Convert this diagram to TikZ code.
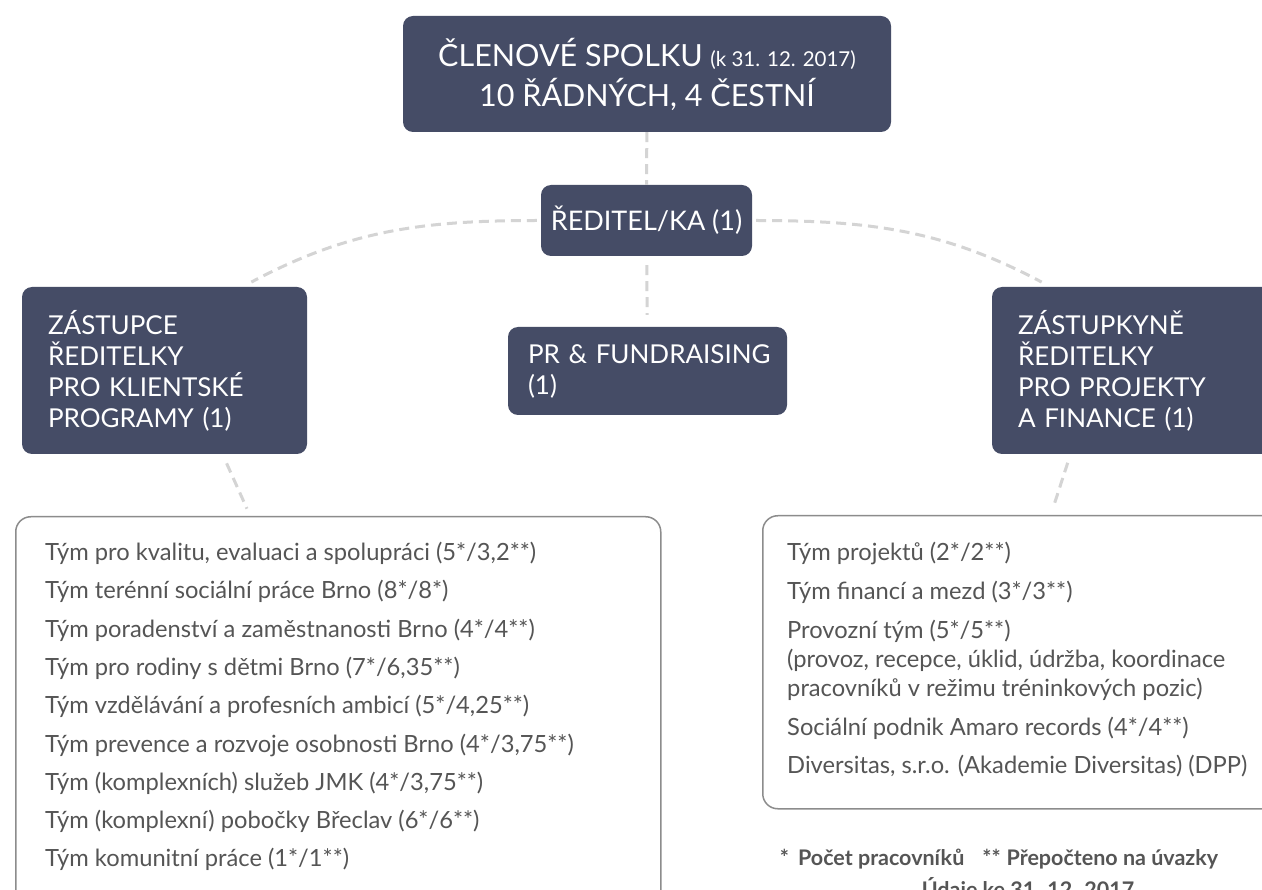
\documentclass[tikz,border=0pt]{standalone}
\usepackage{fontspec}
\setmainfont{Lato}
\definecolor{boxblue}{HTML}{454C66}
\definecolor{dashgrey}{HTML}{D4D4D4}
\definecolor{framegrey}{HTML}{8C8C8C}
\definecolor{textgrey}{HTML}{555555}
\begin{document}
\begin{tikzpicture}[x=1pt, y=-1pt,
    darkbox/.style={fill=boxblue, rounded corners=10pt, text=white, inner sep=0pt,
      font=\fontsize{26}{31}\selectfont},
    listbox/.style={draw=framegrey, line width=1.5pt, rounded corners=15pt, inner sep=0pt},
    item/.style={anchor=base west, text=textgrey, inner sep=0pt,
      font=\fontsize{23.7}{29}\selectfont},
    note/.style={anchor=base, text=textgrey, inner sep=0pt,
      font=\fontsize{21.5}{25}\selectfont\bfseries},
    link/.style={draw=dashgrey, line width=3pt, dash pattern=on 10pt off 6pt}]
  \useasboundingbox (0,0) rectangle (1262,890);
  \fill[white] (0,0) rectangle (1262,890);
  \clip (0,0) rectangle (1262,890);
  \node[darkbox, minimum width=488, minimum height=116, align=center,
    font=\fontsize{30.5}{40}\selectfont] (members) at (647,74)
    {ČLENOVÉ SPOLKU {\fontsize{20.5}{40}\selectfont(k 31. 12. 2017)}\\10 ŘÁDNÝCH, 4 ČESTNÍ};
  \node[darkbox, minimum width=211, minimum height=71, font=\fontsize{27}{31}\selectfont]
    (director) at (646.5,220.5) {ŘEDITEL/KA (1)};
  \node[darkbox, minimum width=279, minimum height=88, text width=239, align=left]
    (pr) at (647.5,371) {\mbox{PR \& FUNDRAISING}\\(1)};
  \node[darkbox, minimum width=285, minimum height=167, text width=233, align=left]
    (clientdep) at (164.5,370.5) {ZÁSTUPCE\\ŘEDITELKY\\PRO KLIENTSKÉ\\PROGRAMY (1)};
  \node[darkbox, minimum width=285, minimum height=167, text width=233, align=left]
    (projdep) at (1134.5,370.5) {ZÁSTUPKYNĚ\\ŘEDITELKY\\PRO PROJEKTY\\A FINANCE (1)};
  \node[listbox, minimum width=645, minimum height=400, anchor=north west]
    (clientteams) at (15,516) {};
  \node[listbox, minimum width=530, minimum height=293, anchor=north west]
    (projteams) at (762,515) {};
  \node[item] (ct1) at (45,560.5) {Tým pro kvalitu, evaluaci a spolupráci (5*/3,2**)};
  \node[item] (ct2) at (45,598.8) {Tým terénní sociální práce Brno (8*/8*)};
  \node[item] (ct3) at (45,637.1) {Tým poradenství a zaměstnanosti Brno (4*/4**)};
  \node[item] (ct4) at (45,675.4) {Tým pro rodiny s dětmi Brno (7*/6,35**)};
  \node[item] (ct5) at (45,713.7) {Tým vzdělávání a profesních ambicí (5*/4,25**)};
  \node[item] (ct6) at (45,752) {Tým prevence a rozvoje osobnosti Brno (4*/3,75**)};
  \node[item] (ct7) at (45,790.3) {Tým (komplexních) služeb JMK (4*/3,75**)};
  \node[item] (ct8) at (45,828.6) {Tým (komplexní) pobočky Břeclav (6*/6**)};
  \node[item] (ct9) at (45,866.9) {Tým komunitní práce (1*/1**)};
  \node[item] (pt1) at (787,561) {Tým projektů (2*/2**)};
  \node[item] (pt2) at (787,599.5) {Tým financí a mezd (3*/3**)};
  \node[item] (pt3) at (787,638) {Provozní tým (5*/5**)};
  \node[item] (pt3b) at (787,667) {(provoz, recepce, úklid, údržba, koordinace};
  \node[item] (pt3c) at (787,696) {pracovníků v režimu tréninkových pozic)};
  \node[item] (pt4) at (787,735) {Sociální podnik Amaro records (4*/4**)};
  \node[item] (pt5) at (787,773.5) {Diversitas, s.r.o. (Akademie Diversitas) (DPP)};
  \node[note] (legend) at (999,865)
    {*\hspace{9pt}Počet pracovníků\hspace{18pt}**\hspace{6pt}Přepočteno na úvazky};
  \node[note] (date) at (1028,897) {Údaje ke 31. 12. 2017};
  \begin{scope}[link]
    \draw (members) -- (director);
    \draw[shorten <=9pt, shorten >=12pt] (director) -- (pr);
    \draw[shorten <=4pt, shorten >=10pt] (director.west) to[out=180, in=28]
      ([xshift=78pt]clientdep.north);
    \draw[shorten <=4pt, shorten >=10pt] (director.east) to[out=0, in=152]
      ([xshift=-84pt]projdep.north);
    \draw[shorten <=10pt, shorten >=8pt] ([xshift=58pt]clientdep.south) --
      ([xshift=-88pt]clientteams.north);
    \draw[shorten <=9pt, shorten >=7pt] ([xshift=-64pt]projdep.south) --
      ([xshift=23pt]projteams.north);
  \end{scope}
\end{tikzpicture}
\end{document}
